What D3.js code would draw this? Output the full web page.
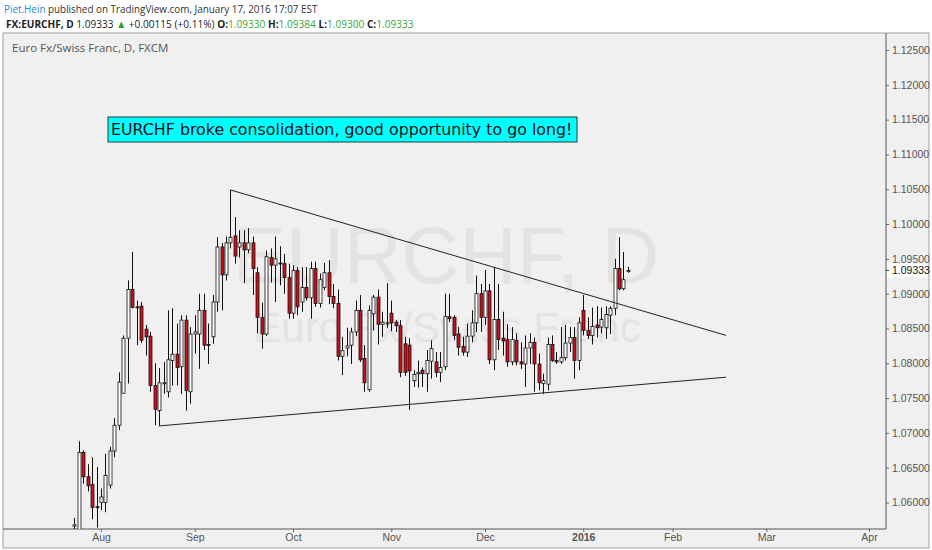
<!DOCTYPE html>
<html>
<head>
<meta charset="utf-8">
<script src="https://cdn.jsdelivr.net/npm/d3@7/dist/d3.min.js"></script>
<style>
  html, body { margin: 0; padding: 0; background: #fff; }
  svg { display: block; }
</style>
</head>
<body>
<div id="chart"></div>
<script>
// daily bars, EURCHF (FXCM), 24 Jul 2015 .. 18 Jan 2016, one entry per trading day
const openP = [
  1.0566, 1.0560, 1.0672, 1.0637, 1.0626, 1.0594, 1.0600, 1.0600, 1.0625, 1.0674,
  1.0711, 1.0757, 1.0836, 1.0906, 1.0881, 1.0882, 1.0849, 1.0839, 1.0768, 1.0732,
  1.0771, 1.0759, 1.0804, 1.0813, 1.0795, 1.0862, 1.0759, 1.0842, 1.0842, 1.0876,
  1.0827, 1.0838, 1.0888, 1.0967, 1.0927, 1.0973, 1.0983, 1.0967, 1.0973, 1.0963,
  1.0973, 1.0930, 1.0866, 1.0842, 1.0952, 1.0941, 1.0944, 1.0943, 1.0923, 1.0872,
  1.0933, 1.0888, 1.0909, 1.0894, 1.0936, 1.0886, 1.0909, 1.0930, 1.0896, 1.0886,
  1.0810, 1.0822, 1.0826, 1.0845, 1.0876, 1.0807, 1.0762, 1.0871, 1.0895, 1.0856,
  1.0858, 1.0872, 1.0859, 1.0854, 1.0828, 1.0826, 1.0775, 1.0785, 1.0790, 1.0785,
  1.0803, 1.0802, 1.0787, 1.0795, 1.0867, 1.0866, 1.0842, 1.0824, 1.0816, 1.0839,
  1.0858, 1.0900, 1.0866, 1.0904, 1.0805, 1.0863, 1.0836, 1.0834, 1.0802, 1.0833,
  1.0802, 1.0799, 1.0822, 1.0830, 1.0799, 1.0771, 1.0770, 1.0827, 1.0804, 1.0802,
  1.0808, 1.0829, 1.0837, 1.0804, 1.0876, 1.0847, 1.0840, 1.0855, 1.0852, 1.0851,
  1.0869, 1.0879, 1.0936, 1.0907, 1.09330
];
const highP = [
  1.0578, 1.0688, 1.0675, 1.0655, 1.0665, 1.0651, 1.0620, 1.0670, 1.0680, 1.0721,
  1.0787, 1.0840, 1.0919, 1.0960, 1.0890, 1.0888, 1.0855, 1.0845, 1.0800, 1.0793,
  1.0802, 1.0876, 1.0879, 1.0857, 1.0869, 1.0869, 1.0852, 1.0869, 1.0900, 1.0900,
  1.0857, 1.0898, 1.0981, 1.0973, 1.0982, 1.1049, 1.1010, 1.0991, 1.0991, 1.0994,
  1.0982, 1.0938, 1.0887, 1.0962, 1.0965, 1.0982, 1.0968, 1.0957, 1.0943, 1.0941,
  1.0938, 1.0938, 1.0938, 1.0946, 1.0946, 1.0929, 1.0944, 1.0948, 1.0914, 1.0906,
  1.0838, 1.0851, 1.0851, 1.0890, 1.0898, 1.0826, 1.0883, 1.0898, 1.0906, 1.0874,
  1.0915, 1.0890, 1.0862, 1.0862, 1.0838, 1.0836, 1.0790, 1.0804, 1.0794, 1.0819,
  1.0833, 1.0816, 1.0816, 1.0900, 1.0900, 1.0869, 1.0852, 1.0838, 1.0857, 1.0876,
  1.0926, 1.0914, 1.0934, 1.0914, 1.0938, 1.0914, 1.0874, 1.0856, 1.0852, 1.0843,
  1.0830, 1.0840, 1.0843, 1.0837, 1.0814, 1.0785, 1.0837, 1.0840, 1.0816, 1.0852,
  1.0855, 1.0852, 1.0852, 1.0866, 1.0898, 1.0866, 1.0880, 1.0882, 1.0880, 1.0882,
  1.0882, 1.0950, 1.0981, 1.0960, 1.09384
];
const lowP = [
  1.0560, 1.0550, 1.0627, 1.0616, 1.0576, 1.0564, 1.0589, 1.0586, 1.0620, 1.0665,
  1.0704, 1.0757, 1.0771, 1.0879, 1.0826, 1.0829, 1.0811, 1.0759, 1.0711, 1.0710,
  1.0756, 1.0751, 1.0768, 1.0768, 1.0756, 1.0732, 1.0742, 1.0814, 1.0792, 1.0819,
  1.0799, 1.0828, 1.0874, 1.0876, 1.0919, 1.0965, 1.0943, 1.0952, 1.0915, 1.0958,
  1.0898, 1.0843, 1.0821, 1.0839, 1.0916, 1.0888, 1.0912, 1.0900, 1.0864, 1.0864,
  1.0869, 1.0874, 1.0890, 1.0864, 1.0881, 1.0880, 1.0905, 1.0885, 1.0879, 1.0804,
  1.0783, 1.0810, 1.0799, 1.0839, 1.0802, 1.0759, 1.0759, 1.0847, 1.0827, 1.0838,
  1.0851, 1.0846, 1.0845, 1.0780, 1.0782, 1.0733, 1.0766, 1.0765, 1.0766, 1.0759,
  1.0778, 1.0780, 1.0773, 1.0790, 1.0859, 1.0833, 1.0811, 1.0811, 1.0809, 1.0830,
  1.0845, 1.0845, 1.0855, 1.0799, 1.0790, 1.0819, 1.0811, 1.0795, 1.0797, 1.0797,
  1.0792, 1.0766, 1.0799, 1.0759, 1.0761, 1.0756, 1.0761, 1.0802, 1.0799, 1.0799,
  1.0804, 1.0816, 1.0778, 1.0790, 1.0840, 1.0835, 1.0827, 1.0837, 1.0843, 1.0835,
  1.0842, 1.0869, 1.0905, 1.0905, 1.09300
];
const closeP = [
  1.0568, 1.0672, 1.0637, 1.0624, 1.0593, 1.0593, 1.0608, 1.0639, 1.0674, 1.0711,
  1.0773, 1.0836, 1.0906, 1.0880, 1.0880, 1.0833, 1.0838, 1.0768, 1.0734, 1.0772,
  1.0772, 1.0805, 1.0813, 1.0794, 1.0862, 1.0761, 1.0842, 1.0845, 1.0876, 1.0826,
  1.0826, 1.0888, 1.0967, 1.0927, 1.0973, 1.0981, 1.0954, 1.0973, 1.0963, 1.0973,
  1.0936, 1.0866, 1.0842, 1.0953, 1.0941, 1.0950, 1.0943, 1.0923, 1.0872, 1.0933,
  1.0881, 1.0909, 1.0894, 1.0936, 1.0886, 1.0920, 1.0930, 1.0896, 1.0886, 1.0810,
  1.0818, 1.0825, 1.0845, 1.0876, 1.0805, 1.0772, 1.0876, 1.0895, 1.0856, 1.0859,
  1.0858, 1.0858, 1.0854, 1.0787, 1.0787, 1.0789, 1.0784, 1.0787, 1.0785, 1.0804,
  1.0821, 1.0787, 1.0794, 1.0867, 1.0864, 1.0840, 1.0823, 1.0816, 1.0839, 1.0858,
  1.0900, 1.0866, 1.0904, 1.0805, 1.0863, 1.0834, 1.0832, 1.0802, 1.0834, 1.0802,
  1.0799, 1.0822, 1.0830, 1.0799, 1.0772, 1.0775, 1.0827, 1.0804, 1.0802, 1.0808,
  1.0829, 1.0837, 1.0804, 1.0858, 1.0847, 1.0840, 1.0853, 1.0851, 1.0863, 1.0870,
  1.0879, 1.0936, 1.0907, 1.0920, 1.09333
];

// bar index of the first trading day of each month
const monthTicks = [6, 27, 49, 71, 92, 114, 134, 155, 178];
const monthLabels = ['Aug', 'Sep', 'Oct', 'Nov', 'Dec', '2016', 'Feb', 'Mar', 'Apr'];
const priceTicks = [1.06, 1.065, 1.07, 1.075, 1.08, 1.085, 1.09, 1.095, 1.10, 1.105, 1.11, 1.115, 1.12, 1.125];
const lastPrice = 1.09333;

// triangle drawn by the author: [bar index, price]
const upperLine = [[35, 1.1049], [146, 1.0840]];
const lowerLine = [[19, 1.0710], [146, 1.0780]];

const W = 932, H = 550;
const plot = { left: 4, right: 886, top: 33, bottom: 529 };

const svg = d3.select('#chart').append('svg').attr('width', W).attr('height', H);

const x = d3.scaleLinear().domain([-15.72, 181.8]).range([plot.left, plot.right]);
const y = d3.scaleLinear().domain([1.06, 1.125]).range([502.5, 50]);

// panel backgrounds
svg.append('rect')
  .attr('x', 3).attr('y', plot.top)
  .attr('width', 926).attr('height', 515)
  .attr('fill', '#f0f0f0').attr('stroke', '#a0a0a0');

svg.append('defs').append('clipPath').attr('id', 'plotclip')
  .append('rect')
  .attr('x', plot.left).attr('y', plot.top)
  .attr('width', plot.right - plot.left).attr('height', plot.bottom - plot.top);

// watermark
const wm = svg.append('g').attr('fill', '#e3e3e3').attr('font-family', 'Liberation Sans, Arial, sans-serif')
  .attr('text-anchor', 'middle');
wm.append('text').attr('x', 446).attr('y', 283).attr('font-size', 80).text('EURCHF, D');
wm.append('text').attr('x', 447).attr('y', 342).attr('font-size', 42).text('Euro Fx/Swiss Franc');

// header
function fitWidth(sel, x0, target) {
  const w = sel.node().getBBox().width;
  const k = target / w;
  sel.attr('transform', 'translate(' + x0 + ',0) scale(' + k + ',1) translate(' + (-x0) + ',0)');
}

const h1 = svg.append('text').attr('x', 4).attr('y', 13)
  .attr('font-family', 'Open Sans, sans-serif').attr('font-size', 11).attr('fill', '#333');
h1.append('tspan').attr('fill', '#2b86d2').text('Piet.Hein');
h1.append('tspan').text(' published on TradingView.com, January 17, 2016 17:07 EST');
fitWidth(h1, 4, 314);

const h2 = svg.append('text').attr('x', 6).attr('y', 28)
  .attr('font-family', 'Open Sans, sans-serif').attr('font-size', 11).attr('fill', '#222');
const green = '#3aa83a';
h2.append('tspan').attr('font-weight', 'bold').text('FX:EURCHF, D ');
h2.append('tspan').text('1.09333 ');
h2.append('tspan').attr('fill', '#2e9e2e').text('\u25B2');
h2.append('tspan').text(' +0.00115 (+0.11%) ');
[['O:', '1.09330'], ['H:', '1.09384'], ['L:', '1.09300'], ['C:', '1.09333']].forEach(function(p, i) {
  h2.append('tspan').attr('font-weight', 'bold').text((i ? ' ' : '') + p[0]);
  h2.append('tspan').attr('fill', green).text(p[1]);
});
fitWidth(h2, 6, 408);

svg.append('text').attr('x', 12).attr('y', 52)
  .attr('font-family', 'Open Sans, sans-serif').attr('font-size', 11.5).attr('fill', '#555')
  .text('Euro Fx/Swiss Franc, D, FXCM');

// price axis
const yAxis = svg.append('g').attr('transform', 'translate(' + plot.right + ',0)')
  .call(d3.axisRight(y).tickValues(priceTicks).tickFormat(d3.format('.5f')).tickSize(3).tickPadding(3));
yAxis.select('.domain').remove();
yAxis.selectAll('text').attr('font-family', 'Liberation Sans, Arial, sans-serif').attr('font-size', 10.5).attr('fill', '#555');
yAxis.selectAll('line').attr('stroke', '#666');

// time axis
const xAxis = svg.append('g').attr('transform', 'translate(0,' + plot.bottom + ')')
  .call(d3.axisBottom(x).tickValues(monthTicks).tickFormat(function(d, i) { return monthLabels[i]; })
    .tickSize(3).tickPadding(2));
xAxis.select('.domain').remove();
xAxis.selectAll('text').attr('font-family', 'Liberation Sans, Arial, sans-serif').attr('font-size', 10.5).attr('fill', '#555')
  .attr('font-weight', function(d, i) { return monthLabels[i] === '2016' ? 'bold' : null; });
xAxis.selectAll('line').attr('stroke', '#666');

// panel separators
svg.append('line').attr('x1', plot.right).attr('x2', plot.right).attr('y1', plot.top).attr('y2', plot.bottom).attr('stroke', '#555');
svg.append('line').attr('x1', 3).attr('x2', plot.right).attr('y1', plot.bottom).attr('y2', plot.bottom).attr('stroke', '#555');

// candles
const bars = d3.range(openP.length).map(function(i) {
  return { i: i, o: openP[i], h: highP[i], l: lowP[i], c: closeP[i] };
});
const g = svg.append('g').attr('clip-path', 'url(#plotclip)');
const bw = 3;

g.selectAll('.wick').data(bars).enter().append('line')
  .attr('class', 'wick')
  .attr('x1', function(d) { return Math.round(x(d.i)) + 0.5; })
  .attr('x2', function(d) { return Math.round(x(d.i)) + 0.5; })
  .attr('y1', function(d) { return y(d.h); })
  .attr('y2', function(d) { return y(d.l); })
  .attr('stroke', '#111').attr('stroke-width', 1);

g.selectAll('.body').data(bars).enter().append('rect')
  .attr('class', 'body')
  .attr('x', function(d) { return Math.round(x(d.i)) + 0.5 - bw / 2; })
  .attr('y', function(d) { return y(Math.max(d.o, d.c)); })
  .attr('width', bw)
  .attr('height', function(d) { return Math.max(1, Math.abs(y(d.o) - y(d.c))); })
  .attr('fill', function(d) { return d.c >= d.o ? '#ffffff' : '#d0101a'; })
  .attr('stroke', '#111').attr('stroke-width', 0.8);

// trend lines
const tl = d3.line().x(function(d) { return x(d[0]); }).y(function(d) { return y(d[1]); });
[upperLine, lowerLine].forEach(function(pts) {
  g.append('path').attr('d', tl(pts)).attr('fill', 'none').attr('stroke', '#222').attr('stroke-width', 1);
});

// last price marker on the axis
const ly = y(lastPrice);
svg.append('rect').attr('x', plot.right + 1).attr('y', ly - 7).attr('width', 41).attr('height', 14).attr('fill', '#fff');
svg.append('line').attr('x1', plot.right).attr('x2', plot.right + 3).attr('y1', ly).attr('y2', ly).attr('stroke', '#444');
svg.append('text').attr('x', plot.right + 6).attr('y', ly + 4)
  .attr('font-family', 'Liberation Sans, Arial, sans-serif').attr('font-size', 10.5).attr('fill', '#111')
  .text(d3.format('.5f')(lastPrice));

// annotation
const note = svg.append('g');
note.append('rect').attr('x', 108).attr('y', 117).attr('width', 469).attr('height', 25)
  .attr('fill', '#00ffff').attr('stroke', '#2a3a3a').attr('stroke-width', 1);
const nt = note.append('text').attr('x', 111).attr('y', 135.5)
  .attr('font-family', 'DejaVu Sans, sans-serif').attr('font-size', 16).attr('fill', '#111')
  .text('EURCHF broke consolidation, good opportunity to go long!');
fitWidth(nt, 111, 462);
</script>
</body>
</html>
